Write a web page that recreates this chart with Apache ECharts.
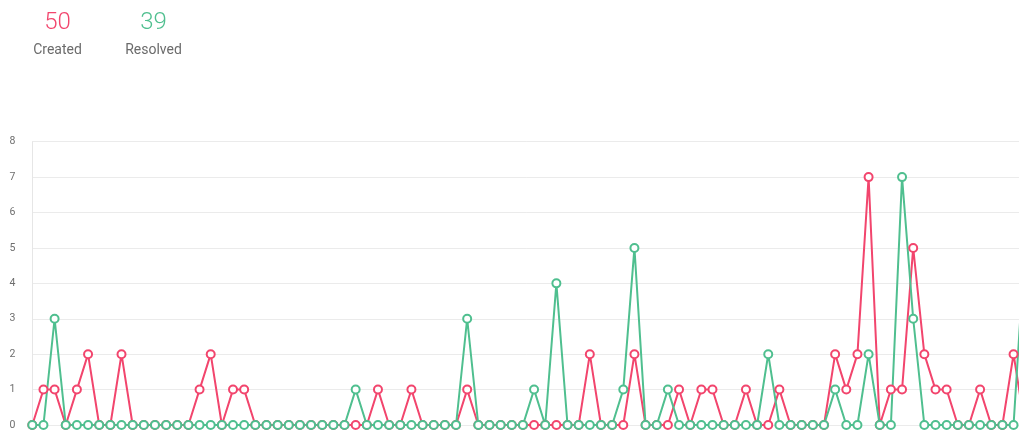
<!DOCTYPE html>
<html>
<head>
<meta charset="utf-8">
<script src="https://cdn.jsdelivr.net/npm/echarts@6/dist/echarts.min.js"></script>
<style>
html,body{margin:0;padding:0;background:#fff;overflow:hidden;}
#c{width:1019px;height:430px;}
</style>
</head>
<body>
<div id="c"></div>
<script>
// ---- data ----
const categories = Array.from({length: 90}, (_, i) => 'Day ' + (i + 1));
const created = [
  0,1,1,0,1,2,0,0,2,0, 0,0,0,0,0,1,2,0,1,1,
  0,0,0,0,0,0,0,0,0,0, 0,1,0,0,1,0,0,0,0,1,
  0,0,0,0,0,0,0,0,0,0, 2,0,0,0,2,0,0,0,1,0,
  1,1,0,0,1,0,0,1,0,0, 0,0,2,1,2,7,0,1,1,5,
  2,1,1,0,0,1,0,0,2,0
];
const resolved = [
  0,0,3,0,0,0,0,0,0,0, 0,0,0,0,0,0,0,0,0,0,
  0,0,0,0,0,0,0,0,0,1, 0,0,0,0,0,0,0,0,0,3,
  0,0,0,0,0,1,0,4,0,0, 0,0,0,1,5,0,0,1,0,0,
  0,0,0,0,0,0,2,0,0,0, 0,0,1,0,0,2,0,0,7,3,
  0,0,0,0,0,0,0,0,0,5
];
const yTicks = [0,1,2,3,4,5,6,7,8];
const summaryLabels = ['Created', 'Resolved'];
const summaryValues = ['50', '39'];

// ---- styles ----
const RED = '#f2456d';
const GREEN = '#4fbf8f';
const FONT = 'Roboto, "Liberation Sans", Arial, sans-serif';
const summaryColors = [RED, GREEN];
const summaryX = [57.5, 153.5];

const chart = echarts.init(document.getElementById('c'), null, {renderer: 'canvas'});

const graphics = [];
summaryLabels.forEach((lab, i) => {
  graphics.push({
    type: 'text', x: summaryX[i], y: 11,
    style: {text: summaryValues[i], fill: summaryColors[i], font: '300 24px ' + FONT,
            textAlign: 'center', textVerticalAlign: 'top'}
  });
  graphics.push({
    type: 'text', x: summaryX[i], y: 43,
    style: {text: lab, fill: '#6b6b6b', font: '14px ' + FONT,
            textAlign: 'center', textVerticalAlign: 'top'}
  });
});

chart.setOption({
  animation: false,
  backgroundColor: '#fff',
  graphic: graphics,
  grid: {left: 32.3, width: 992.4, top: 141.7, bottom: 5, containLabel: false,
         outerBoundsMode: 'none'},
  xAxis: {
    type: 'category',
    data: categories,
    boundaryGap: false,
    axisLine: {show: false},
    axisTick: {show: false},
    axisLabel: {show: false},
    splitLine: {show: false}
  },
  yAxis: {
    type: 'value',
    min: yTicks[0],
    max: yTicks[yTicks.length - 1],
    interval: 1,
    axisLine: {show: true, lineStyle: {color: '#e6e6e6', width: 1}},
    axisTick: {show: false},
    axisLabel: {color: '#6e6e6e', fontSize: 10.5, fontFamily: FONT, margin: 17},
    splitLine: {show: true, lineStyle: {color: '#ebebeb', width: 1}}
  },
  series: [
    {
      name: 'Created', type: 'line', data: created,
      symbol: 'emptyCircle', symbolSize: 8, showAllSymbol: true,
      lineStyle: {color: RED, width: 2},
      itemStyle: {color: RED, borderColor: RED, borderWidth: 2},
      emphasis: {disabled: true}
    },
    {
      name: 'Resolved', type: 'line', data: resolved,
      symbol: 'emptyCircle', symbolSize: 8, showAllSymbol: true,
      lineStyle: {color: GREEN, width: 2},
      itemStyle: {color: GREEN, borderColor: GREEN, borderWidth: 2},
      emphasis: {disabled: true}
    }
  ]
});
</script>
</body>
</html>
